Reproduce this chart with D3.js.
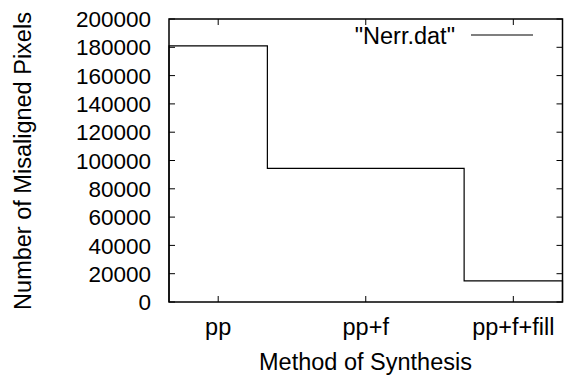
<!DOCTYPE html>
<html>
<head>
<meta charset="utf-8">
<script src="https://cdn.jsdelivr.net/npm/d3@7"></script>
<style>
  body { margin: 0; background: #fff; }
  text { font-family: "Liberation Sans", Arial, sans-serif; fill: #000; }
</style>
</head>
<body>
<div id="chart"></div>
<script>
const categories = ['pp', 'pp+f', 'pp+f+fill'];
const values = [181000, 94500, 15000];
// step edges around each category (in category index units)
const stepEdges = [-1 / 3, 1 / 3, 5 / 3, 7 / 3];
const yTicks = [0, 20000, 40000, 60000, 80000, 100000, 120000, 140000, 160000, 180000, 200000];

const W = 564, H = 376;
const margin = { top: 19, right: 1.5, bottom: 74, left: 169 };
const width = W - margin.left - margin.right;
const height = H - margin.top - margin.bottom;
const fs = 22.5;   // tick numbers
const fsT = 23.5;  // words

const svg = d3.select('#chart').append('svg')
  .attr('width', W)
  .attr('height', H);

const g = svg.append('g')
  .attr('transform', `translate(${margin.left},${margin.top})`);

const x = d3.scaleLinear().domain([-1 / 3, 7 / 3]).range([0, width]);
const y = d3.scaleLinear().domain([0, 200000]).range([height, 0]);

// ticks (inward, mirrored like gnuplot)
const tickLen = 6;
const ticks = g.append('g').attr('stroke', '#000').attr('stroke-width', 1);
yTicks.forEach(t => {
  ticks.append('line').attr('x1', 0).attr('x2', tickLen).attr('y1', y(t)).attr('y2', y(t));
  ticks.append('line').attr('x1', width).attr('x2', width - tickLen).attr('y1', y(t)).attr('y2', y(t));
});
categories.forEach((c, i) => {
  ticks.append('line').attr('x1', x(i)).attr('x2', x(i)).attr('y1', height).attr('y2', height - tickLen);
  ticks.append('line').attr('x1', x(i)).attr('x2', x(i)).attr('y1', 0).attr('y2', tickLen);
});

// y tick labels
g.selectAll('.ylab').data(yTicks).enter().append('text')
  .attr('x', 151 - margin.left)
  .attr('y', d => y(d))
  .attr('dy', '0.36em')
  .attr('text-anchor', 'end')
  .attr('font-size', fs)
  .text(d => d);

// x tick labels
g.selectAll('.xlab').data(categories).enter().append('text')
  .attr('x', (d, i) => x(i))
  .attr('y', 335 - margin.top)
  .attr('text-anchor', 'middle')
  .attr('font-size', fsT)
  .text(d => d);

// step line
const pts = [[stepEdges[0], 0]];
values.forEach((v, i) => {
  pts.push([stepEdges[i], v]);
  pts.push([stepEdges[i + 1], v]);
});
pts.push([stepEdges[stepEdges.length - 1], 0]);

g.append('path')
  .datum(pts)
  .attr('fill', 'none')
  .attr('stroke', '#000')
  .attr('stroke-width', 1.2)
  .attr('d', d3.line().x(d => x(d[0])).y(d => y(d[1])));

// frame
g.append('rect')
  .attr('x', 0).attr('y', 0)
  .attr('width', width).attr('height', height)
  .attr('fill', 'none')
  .attr('stroke', '#000')
  .attr('stroke-width', 1.5);

// legend
g.append('text')
  .attr('x', 455 - margin.left)
  .attr('y', 44 - margin.top)
  .attr('text-anchor', 'end')
  .attr('font-size', fsT)
  .text('"Nerr.dat"');
g.append('line')
  .attr('x1', 471 - margin.left).attr('x2', 533 - margin.left)
  .attr('y1', 35 - margin.top).attr('y2', 35 - margin.top)
  .attr('stroke', '#000').attr('stroke-width', 1.2);

// axis titles
svg.append('text')
  .attr('x', 365.5)
  .attr('y', 370)
  .attr('text-anchor', 'middle')
  .attr('font-size', fsT)
  .text('Method of Synthesis');

svg.append('text')
  .attr('transform', 'translate(31,161) rotate(-90)')
  .attr('text-anchor', 'middle')
  .attr('font-size', fsT)
  .text('Number of Misaligned Pixels');
</script>
</body>
</html>
